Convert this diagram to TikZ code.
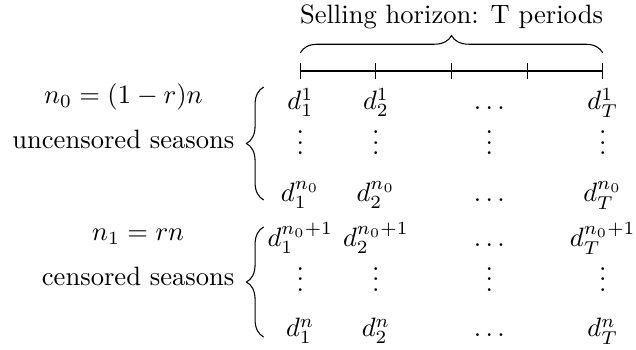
\documentclass[tikz,border=0pt]{standalone}
\usepackage{amsmath}
\usepackage{amssymb}
\usetikzlibrary{decorations.pathreplacing}

\begin{document}
\begin{tikzpicture}[
  ent/.style={anchor=base, inner sep=0pt},
  side/.style={anchor=base, inner sep=0pt},
  hbrace/.style={decorate, decoration={brace, amplitude=6.5pt}},
]
  \useasboundingbox (-3.972,-3.690) rectangle (4.440,0.939);

  %% Selling horizon: timeline, ticks and brace
  \coordinate (t0) at (0,0);
  \coordinate (tT) at (4,0);
  \draw (t0) -- (tT);
  \draw (0,-0.1) -- (0,0.1)  (1,-0.1) -- (1,0.1)  (2,-0.1) -- (2,0.1)
        (3,-0.1) -- (3,0.1)  (4,-0.1) -- (4,0.1);
  \draw[hbrace] ([yshift=0.24cm]t0) -- ([yshift=0.24cm]tT);
  \node[ent] (hor) at (2,0.622) {Selling horizon: T periods};

  %% Uncensored seasons — upper block
  \node[side, anchor=base east] (unc) at (-0.864,-1.022) {uncensored seasons};
  \node[side] (n0) at (unc.base |- 0,-0.427) {$n_0=(1-r)n$};
  \coordinate (bu_t) at (-0.484,-0.212);
  \coordinate (bu_b) at (-0.484,-1.706);
  \draw[hbrace] (bu_b) -- (bu_t);

  \node[ent] (u11) at (0,-0.515)   {$d_1^1$};
  \node[ent] (u12) at (1,-0.515)   {$d_2^1$};
  \node[ent] (u13) at (2.5,-0.515) {$\ldots$};
  \node[ent] (u14) at (4,-0.515)   {$d_T^1$};

  \node[ent] (u21) at (0,-1.11)    {$\vdots$};
  \node[ent] (u22) at (1,-1.11)    {$\vdots$};
  \node[ent] (u23) at (2.5,-1.11)  {$\vdots$};
  \node[ent] (u24) at (4,-1.11)    {$\vdots$};

  \node[ent] (u31) at (0,-1.725)   {$d_1^{n_0}$};
  \node[ent] (u32) at (1,-1.725)   {$d_2^{n_0}$};
  \node[ent] (u33) at (2.5,-1.725) {$\ldots$};
  \node[ent] (u34) at (4,-1.725)   {$d_T^{n_0}$};

  %% Censored seasons — lower block
  \node[side, anchor=base east] (cen) at (-0.864,-2.831) {censored seasons};
  \node[side] (n1) at (cen.base |- 0,-2.236) {$n_1=rn$};
  \coordinate (bc_t) at (-0.484,-2.063);
  \coordinate (bc_b) at (-0.484,-3.519);
  \draw[hbrace] (bc_b) -- (bc_t);

  \node[ent] (c11) at (0,-2.32)    {$d_1^{n_0+1}$};
  \node[ent] (c12) at (1,-2.32)    {$d_2^{n_0+1}$};
  \node[ent] (c13) at (2.5,-2.32)  {$\ldots$};
  \node[ent] (c14) at (4,-2.32)    {$d_T^{n_0+1}$};

  \node[ent] (c21) at (0,-2.915)   {$\vdots$};
  \node[ent] (c22) at (1,-2.915)   {$\vdots$};
  \node[ent] (c23) at (2.5,-2.915) {$\vdots$};
  \node[ent] (c24) at (4,-2.915)   {$\vdots$};

  \node[ent] (c31) at (0,-3.515)   {$d_1^n$};
  \node[ent] (c32) at (1,-3.515)   {$d_2^n$};
  \node[ent] (c33) at (2.5,-3.515) {$\ldots$};
  \node[ent] (c34) at (4,-3.515)   {$d_T^n$};
\end{tikzpicture}
\end{document}
